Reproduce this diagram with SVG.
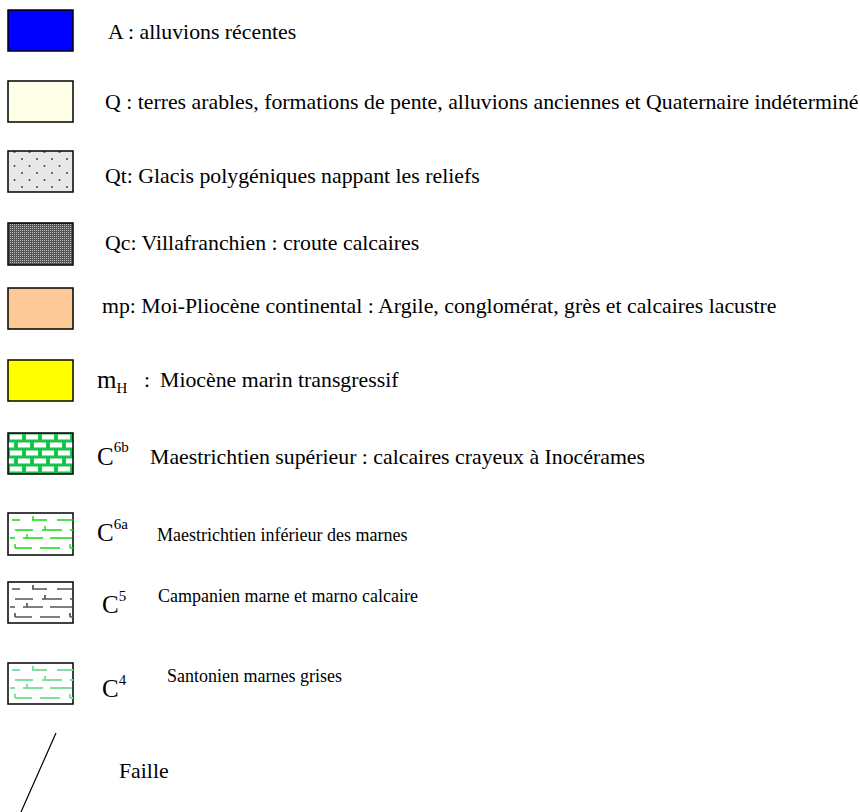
<svg xmlns="http://www.w3.org/2000/svg" width="860" height="812" viewBox="0 0 860 812">
<style>
.box{stroke:#000;stroke-width:1.5}
.t{font-family:"Liberation Serif","Times New Roman",serif;font-size:21.8px;fill:#000}
.s{font-family:"Liberation Serif","Times New Roman",serif;font-size:18px;fill:#000}
.sym{font-family:"Liberation Serif","Times New Roman",serif;font-size:25px;fill:#000}
.sup{font-size:15px}
.mk{fill:none}
</style>
<defs>
<pattern id="dots" width="15" height="14" patternUnits="userSpaceOnUse" x="7" y="2">
<rect width="15" height="14" fill="#e8e8e8"/>
<circle cx="0" cy="3" r="1" fill="#444"/><circle cx="15" cy="3" r="1" fill="#444"/>
<circle cx="7.5" cy="10" r="1" fill="#444"/>
</pattern>
<pattern id="check" width="2" height="2" patternUnits="userSpaceOnUse">
<rect width="2" height="2" fill="#555"/><rect width="1" height="1" fill="#bbb"/>
</pattern>
<pattern id="brick" width="16" height="16" patternUnits="userSpaceOnUse" x="8" y="433">
<rect width="16" height="16" fill="#19c24f"/>
<rect x="2" y="1.5" width="12" height="5" fill="#fff"/>
<rect x="-6" y="9.5" width="12" height="5" fill="#fff"/>
<rect x="10" y="9.5" width="12" height="5" fill="#fff"/>
</pattern>
<path id="mk" d="M4 7H12M24 7H39M25 3V7M49 7H65M7 17H25M34 17H54M37 13V17M62 17H65M2 25H7M15 25H35M19 21V25M42 25H64M7 35H24M7 31V35M32 35H52M62 35H65M62 31V35"/>
</defs>
<g id="A"><rect class="box" x="8" y="10" width="65" height="41" fill="#0000ff"/><text class="t" x="108" y="39">A : alluvions récentes</text></g>
<g id="Q"><rect class="box" x="8" y="81" width="65" height="41" fill="#ffffe8"/><text class="t" x="105" y="109">Q : terres arables, formations de pente, alluvions anciennes et Quaternaire indéterminé</text></g>
<g id="Qt"><rect class="box" x="8" y="151" width="65" height="41" fill="url(#dots)"/><text class="t" x="105" y="183">Qt: Glacis polygéniques nappant les reliefs</text></g>
<g id="Qc"><rect class="box" x="8" y="223" width="65" height="42" fill="url(#check)"/><text class="t" x="105" y="250">Qc: Villafranchien : croute calcaires</text></g>
<g id="mp"><rect class="box" x="8" y="288" width="65" height="41" fill="#fdc997"/><text class="t" x="102" y="313">mp: Moi-Pliocène continental : Argile, conglomérat, grès et calcaires lacustre</text></g>
<g id="mH"><rect class="box" x="8" y="360" width="65" height="41" fill="#ffff00"/><text class="sym" x="97" y="388">m<tspan class="sup" dy="5">H</tspan></text><text class="t" x="144" y="387">:</text><text class="t" x="160" y="387">Miocène marin transgressif</text></g>
<g id="C6b"><rect class="box" x="8" y="433" width="65" height="41" fill="url(#brick)"/><text class="sym" x="97" y="465">C<tspan class="sup" dy="-13">6b</tspan></text><text class="t" x="150" y="464">Maestrichtien supérieur : calcaires crayeux à Inocérames</text></g>
<g id="C6a"><rect class="box" x="8" y="513" width="65" height="42" fill="#fff"/><use href="#mk" x="8" y="513" class="mk" stroke="#11dd11" stroke-width="1.4"/><text class="sym" x="97" y="541">C<tspan class="sup" dy="-12">6a</tspan></text><text class="s" x="157" y="541">Maestrichtien inférieur des marnes</text></g>
<g id="C5"><rect class="box" x="8" y="582" width="65" height="41" fill="#fff"/><use href="#mk" x="8" y="582" class="mk" stroke="#555" stroke-width="1.7"/><text class="sym" x="102" y="613">C<tspan class="sup" dy="-12">5</tspan></text><text class="s" x="158" y="602">Campanien marne et marno calcaire</text></g>
<g id="C4"><rect class="box" x="8" y="663" width="65" height="41" fill="#fff"/><use href="#mk" x="8" y="663" class="mk" stroke="#80e0a0" stroke-width="2"/><text class="sym" x="102" y="697">C<tspan class="sup" dy="-12">4</tspan></text><text class="s" x="167" y="682">Santonien marnes grises</text></g>
<g id="faille"><line x1="56" y1="733" x2="21" y2="812" stroke="#000" stroke-width="1.2"/><text class="t" x="119" y="778">Faille</text></g>
<g id="connectors"/>
</svg>
